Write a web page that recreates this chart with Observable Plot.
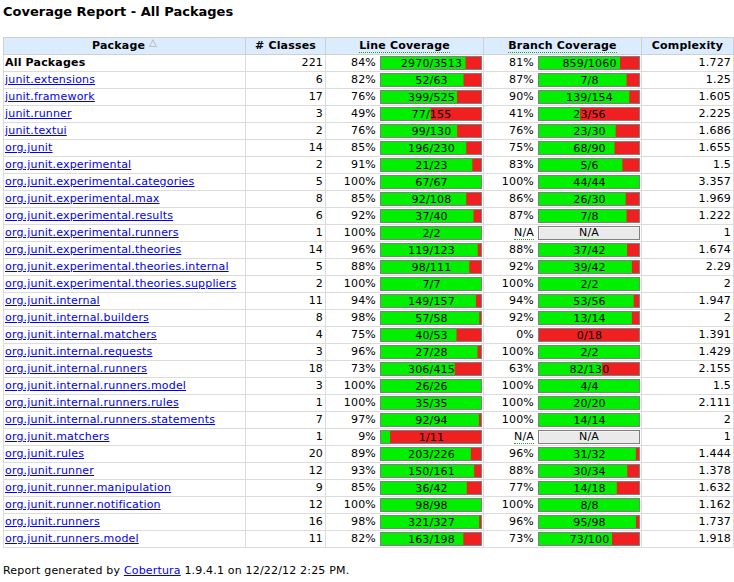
<!DOCTYPE html>
<html>
<head>
<meta charset="utf-8">
<script src="https://cdn.jsdelivr.net/npm/d3@7"></script>
<script src="https://cdn.jsdelivr.net/npm/@observablehq/plot@0.6"></script>
<style>
  body { margin: 0; background: #fff; color: #000; font-family: "DejaVu Sans", Verdana, sans-serif; font-size: 11px; }
  .title { font-size: 13px; font-weight: bold; line-height: 16px; padding: 4px 0 0 3px; height: 16px; }
  table.report { border-collapse: collapse; table-layout: fixed; width: 730px; margin: 17px 0 0 3px; letter-spacing: 0.18px; }
  table.report td, table.report th { border: 1px solid #dcdcdc; padding: 0 2px; height: 16px; line-height: 16px; white-space: nowrap; overflow: hidden; }
  table.report th { background: #dcecff; border: 1px solid #d0d0d0; font-weight: bold; text-align: center; }
  table.report td.pkg { padding-left: 1px; }
  table.report td.num { text-align: right; }
  table.report td.cov { padding: 0; }
  a { color: #0000ee; text-decoration: underline; }
  .hastitle { border-bottom: 1px dotted #22aa22; }
  .arrow { font-size: 10px; font-weight: normal; color: #a8a8a8; position: relative; top: -3px; }
  .covwrap { display: flex; justify-content: flex-end; align-items: center; height: 16px; }
  .pct { margin-right: 4px; }
  .bar { position: relative; width: 100px; height: 12px; border: 1px solid #808080; margin-right: 1px; }
  .bar svg { display: block; letter-spacing: 0.18px; }
  .natext { position: absolute; left: 0; top: 0; width: 100px; text-align: center; line-height: 12px; }
  .foot { margin: 15px 0 0 3px; line-height: 16px; letter-spacing: 0.18px; }
</style>
</head>
<body>
<div class="title">Coverage Report - All Packages</div>
<div id="report"></div>
<div class="foot">Report generated by <a href="#">Cobertura</a> 1.9.4.1 on 12/22/12 2:25 PM.</div>
<script>
const headers = ["Package", "# Classes", "Line Coverage", "Branch Coverage", "Complexity"];
const packages = ["All Packages", "junit.extensions", "junit.framework", "junit.runner", "junit.textui", "org.junit",
  "org.junit.experimental", "org.junit.experimental.categories", "org.junit.experimental.max", "org.junit.experimental.results",
  "org.junit.experimental.runners", "org.junit.experimental.theories", "org.junit.experimental.theories.internal",
  "org.junit.experimental.theories.suppliers", "org.junit.internal", "org.junit.internal.builders", "org.junit.internal.matchers",
  "org.junit.internal.requests", "org.junit.internal.runners", "org.junit.internal.runners.model", "org.junit.internal.runners.rules",
  "org.junit.internal.runners.statements", "org.junit.matchers", "org.junit.rules", "org.junit.runner",
  "org.junit.runner.manipulation", "org.junit.runner.notification", "org.junit.runners", "org.junit.runners.model"];
const classes = [221, 6, 17, 3, 2, 14, 2, 5, 8, 6, 1, 14, 5, 2, 11, 8, 4, 3, 18, 3, 1, 7, 1, 20, 12, 9, 12, 16, 11];
const linePct = [84, 82, 76, 49, 76, 85, 91, 100, 85, 92, 100, 96, 88, 100, 94, 98, 75, 96, 73, 100, 100, 97, 9, 89, 93, 85, 100, 98, 82];
const lineCovered = [2970, 52, 399, 77, 99, 196, 21, 67, 92, 37, 2, 119, 98, 7, 149, 57, 40, 27, 306, 26, 35, 92, 1, 203, 150, 36, 98, 321, 163];
const lineTotal = [3513, 63, 525, 155, 130, 230, 23, 67, 108, 40, 2, 123, 111, 7, 157, 58, 53, 28, 415, 26, 35, 94, 11, 226, 161, 42, 98, 327, 198];
const branchPct = [81, 87, 90, 41, 76, 75, 83, 100, 86, 87, null, 88, 92, 100, 94, 92, 0, 100, 63, 100, 100, 100, null, 96, 88, 77, 100, 96, 73];
const branchCovered = [859, 7, 139, 23, 23, 68, 5, 44, 26, 7, null, 37, 39, 2, 53, 13, 0, 2, 82, 4, 20, 14, null, 31, 30, 14, 8, 95, 73];
const branchTotal = [1060, 8, 154, 56, 30, 90, 6, 44, 30, 8, null, 42, 42, 2, 56, 14, 18, 2, 130, 4, 20, 14, null, 32, 34, 18, 8, 98, 100];
const complexity = [1.727, 1.25, 1.605, 2.225, 1.686, 1.655, 1.5, 3.357, 1.969, 1.222, 1, 1.674, 2.29, 2, 1.947, 2, 1.391, 1.429, 2.155, 1.5, 2.111, 2, 1, 1.444, 1.378, 1.632, 1.162, 1.737, 1.918];

const GREEN = "#00f000", RED = "#f02020", NA = "#eaeaea";
const FONT = '"DejaVu Sans", Verdana, sans-serif';

function coverageBar(covered, total) {
  const wrap = document.createElement("div");
  wrap.className = "bar";
  if (total == null) {
    wrap.appendChild(Plot.plot({
      width: 100, height: 12, margin: 0,
      style: {background: "transparent", fontFamily: FONT, fontSize: "11px"},
      marks: [Plot.frame({fill: NA})]
    }));
    const t = document.createElement("div");
    t.className = "natext";
    t.innerHTML = '<span class="hastitle">N/A</span>';
    wrap.appendChild(t);
    return wrap;
  }
  wrap.appendChild(Plot.plot({
    width: 100, height: 12, margin: 0,
    x: {domain: [0, total], range: [0, 100], axis: null},
    style: {background: "transparent", fontFamily: FONT, fontSize: "11px", overflow: "visible"},
    marks: [
      Plot.barX([total], {x: d => d, fill: RED}),
      Plot.barX([covered], {x: d => d, fill: GREEN}),
      Plot.text([`${covered}/${total}`], {text: d => d, frameAnchor: "middle", fill: "#000", fontSize: 11})
    ]
  }));
  return wrap;
}

function covCell(pct, covered, total) {
  const td = document.createElement("td");
  td.className = "cov";
  const w = document.createElement("div");
  w.className = "covwrap";
  const p = document.createElement("span");
  p.className = "pct";
  if (pct == null) p.innerHTML = '<span class="hastitle">N/A</span>';
  else p.textContent = pct + "%";
  w.appendChild(p);
  w.appendChild(coverageBar(covered, total));
  td.appendChild(w);
  return td;
}

const table = document.createElement("table");
table.className = "report";
const cg = document.createElement("colgroup");
[242, 80, 158, 158, 92].forEach(wd => { const c = document.createElement("col"); c.style.width = wd + "px"; cg.appendChild(c); });
table.appendChild(cg);

const hr = document.createElement("tr");
headers.forEach((h, i) => {
  const th = document.createElement("th");
  if (i === 0) th.innerHTML = h + ' <span class="arrow">△</span>';
  else if (i === 2 || i === 3) th.innerHTML = '<span class="hastitle">' + h + '</span>';
  else th.textContent = h;
  hr.appendChild(th);
});
table.appendChild(hr);

packages.forEach((name, i) => {
  const tr = document.createElement("tr");
  const td0 = document.createElement("td");
  td0.className = "pkg";
  if (i === 0) td0.innerHTML = "<b>" + name + "</b>";
  else { const a = document.createElement("a"); a.href = "#"; a.textContent = name; td0.appendChild(a); }
  tr.appendChild(td0);
  const td1 = document.createElement("td");
  td1.className = "num";
  td1.textContent = classes[i];
  tr.appendChild(td1);
  tr.appendChild(covCell(linePct[i], lineCovered[i], lineTotal[i]));
  tr.appendChild(covCell(branchPct[i], branchCovered[i], branchTotal[i]));
  const td4 = document.createElement("td");
  td4.className = "num";
  td4.textContent = String(complexity[i]);
  tr.appendChild(td4);
  table.appendChild(tr);
});
document.getElementById("report").appendChild(table);
</script>
</body>
</html>
